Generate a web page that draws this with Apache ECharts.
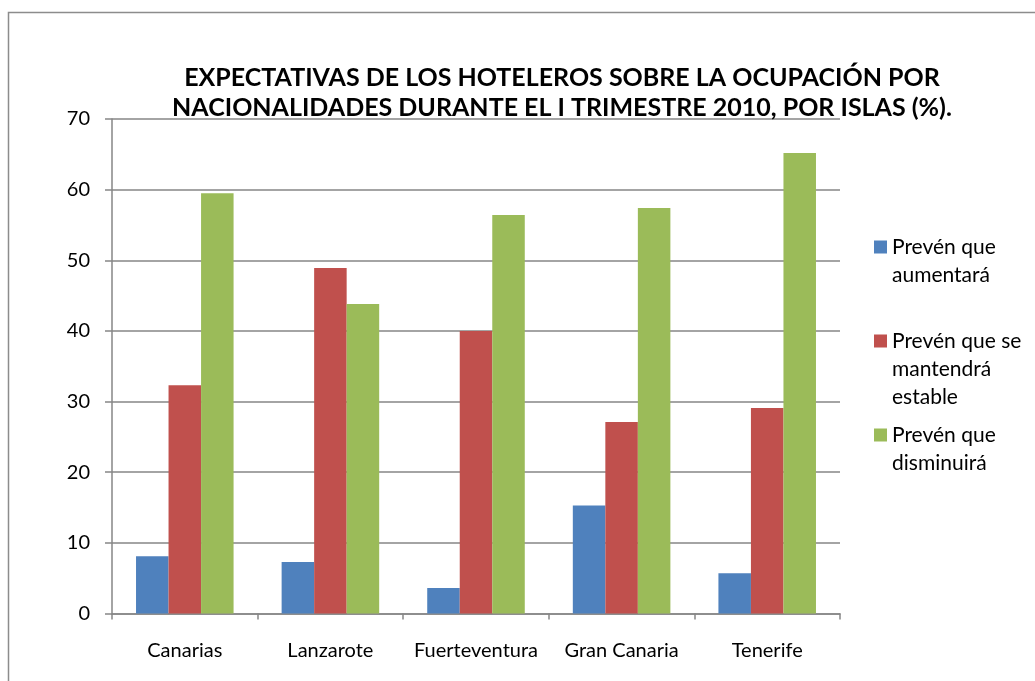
<!DOCTYPE html>
<html>
<head>
<meta charset="utf-8">
<script src="https://cdn.jsdelivr.net/npm/echarts@6/dist/echarts.min.js"></script>
<style>
  html, body { margin: 0; padding: 0; background: #fff; }
  #chart { width: 1035px; height: 681px; }
</style>
</head>
<body>
<div id="chart"></div>
<script>
var islas = ['Canarias', 'Lanzarote', 'Fuerteventura', 'Gran Canaria', 'Tenerife'];
var aumentara = [8.1, 7.3, 3.6, 15.3, 5.7];
var estable = [32.3, 48.9, 40.0, 27.1, 29.1];
var disminuira = [59.5, 43.8, 56.4, 57.4, 65.2];
var nombres = ['Prevén que\naumentará', 'Prevén que se\nmantendrá\nestable', 'Prevén que\ndisminuirá'];

var fuente = 'Lato, "Open Sans", sans-serif';
var alto = 28; // alto de linea de la leyenda

// una leyenda por serie; el icono es alto como el texto pero
// el cuadrado solo ocupa la primera linea
function leyenda(nombre, top, lineas) {
  var h = lineas * alto;
  return {
    orient: 'vertical',
    left: 869,
    top: top,
    itemWidth: 13,
    itemHeight: h,
    icon: 'path://M0,7.5 H13 V20.5 H0 Z M0,0 L0,0 M0,' + h + ' L0,' + h,
    textStyle: { fontFamily: fuente, fontSize: 21, color: '#000', lineHeight: alto },
    data: [nombre]
  };
}

var chart = echarts.init(document.getElementById('chart'));

var option = {
  animation: false,
  textStyle: { fontFamily: fuente },
  title: {
    text: 'EXPECTATIVAS DE LOS HOTELEROS SOBRE LA OCUPACIÓN POR\nNACIONALIDADES DURANTE EL I TRIMESTRE 2010, POR ISLAS (%).',
    left: 557,
    top: 58,
    textAlign: 'center',
    textStyle: { fontFamily: fuente, fontSize: 25, fontWeight: 'bold', color: '#000', lineHeight: 30 }
  },
  legend: [
    leyenda(nombres[0], 228, 2),
    leyenda(nombres[1], 322, 3),
    leyenda(nombres[2], 416, 2)
  ],
  grid: { left: 112, right: 195, top: 119, bottom: 67.5 },
  xAxis: {
    type: 'category',
    data: islas,
    axisLine: { lineStyle: { color: '#868686', width: 1.5 } },
    axisTick: { show: true, length: 6, lineStyle: { color: '#868686', width: 1.5 } },
    axisLabel: { color: '#000', fontSize: 20, margin: 27, interval: 0, fontFamily: fuente }
  },
  yAxis: {
    type: 'value',
    min: 0,
    max: 70,
    interval: 10,
    axisLine: { show: true, lineStyle: { color: '#868686', width: 1.5 } },
    axisTick: { show: true, length: 7, lineStyle: { color: '#868686', width: 1.5 } },
    axisLabel: { color: '#000', fontSize: 20, margin: 22, fontFamily: fuente },
    splitLine: { lineStyle: { color: '#868686', width: 1.5 } }
  },
  series: [
    {
      name: nombres[0],
      type: 'bar',
      data: aumentara,
      barGap: '0%',
      barCategoryGap: '33%',
      itemStyle: { color: '#4F81BD' }
    },
    {
      name: nombres[1],
      type: 'bar',
      data: estable,
      itemStyle: { color: '#C0504D' }
    },
    {
      name: nombres[2],
      type: 'bar',
      data: disminuira,
      itemStyle: { color: '#9BBB59' }
    }
  ],
  graphic: [
    {
      type: 'rect',
      shape: { x: 8.5, y: 12.5, width: 1100, height: 1000 },
      style: { fill: null, stroke: '#8c8c8c', lineWidth: 1.5 },
      silent: true
    }
  ]
};

chart.setOption(option);
</script>
</body>
</html>
